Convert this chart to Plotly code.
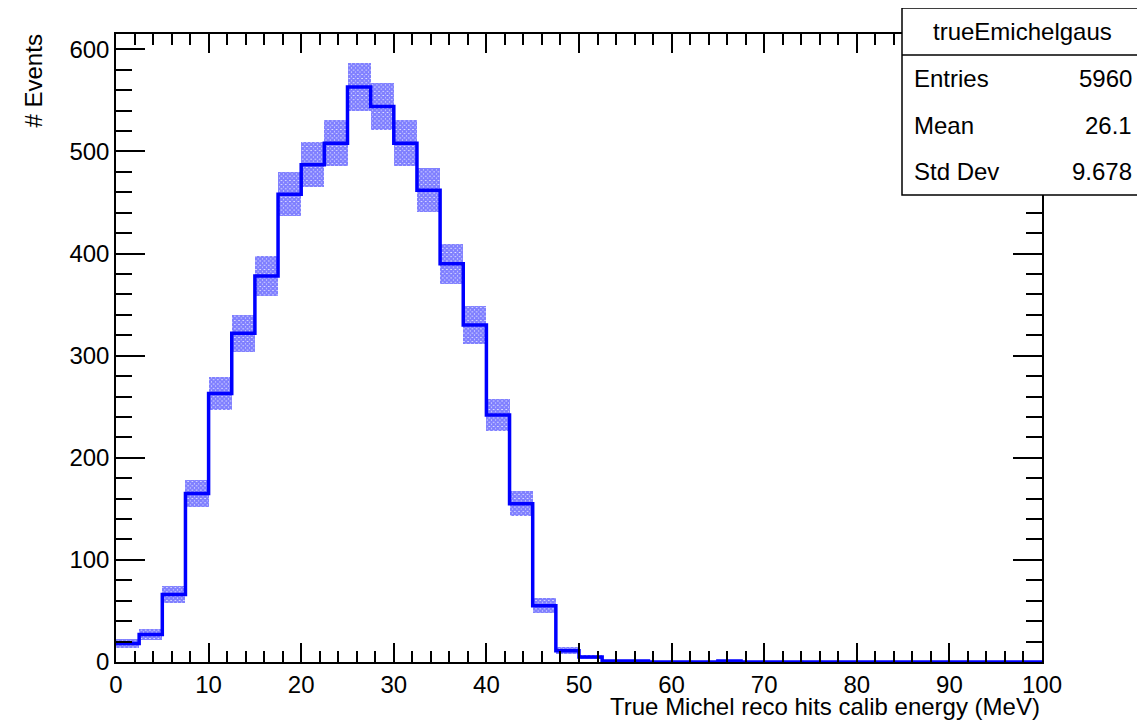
import numpy as np
import plotly.graph_objects as go

# ---- data ----
bin_edges = [i * 2.5 for i in range(41)]
counts = [18, 27, 66, 165, 263, 322, 378, 458, 487, 508,
          563, 544, 508, 462, 390, 330, 242, 155, 55, 11,
          5, 1, 1, 0, 0, 0, 1, 0, 0, 0,
          0, 0, 0, 0, 0, 0, 0, 0, 0, 0]
hist_name = "trueEmichelgaus"
stat_labels = ["Entries", "Mean", "Std Dev"]
stat_values = ["5960", "26.1", "9.678"]
x_title = "True Michel reco hits calib energy (MeV)"
y_title = "# Events"

edges = np.array(bin_edges)
y = np.array(counts, dtype=float)
centers = 0.5 * (edges[:-1] + edges[1:])
widths = np.diff(edges)
err = np.sqrt(y)

# layout geometry (screen pixels); page body has an 8px margin
OFF = 8
W, H = 1145 - OFF, 720 - OFF
L, R, T, B = 116, 1042, 34, 662   # plot frame in screen pixels
def px(p):
    return (p - L) / (R - L)
def py(p):
    return (B - p) / (B - T)

FONT = "Liberation Sans, Arial, sans-serif"
BLUE = "#0000ff"

fig = go.Figure()

# hatched error band
fig.add_trace(go.Bar(
    x=centers, y=2 * err, base=y - err, width=widths,
    marker=dict(color="white", line=dict(width=0),
                pattern=dict(shape="x", fgcolor="#0000ff", bgcolor="white",
                             size=3, solidity=0.9)),
    showlegend=False, hoverinfo="skip"))

# step histogram line
xs = np.concatenate([edges[:-1], [edges[-1]]])
ys = np.concatenate([y, [y[-1]]])
fig.add_trace(go.Scatter(
    x=xs, y=ys, mode="lines", line=dict(color=BLUE, width=3.5, shape="hv"),
    showlegend=False))

axis_common = dict(
    showgrid=False, zeroline=False, showline=True, linecolor="black",
    linewidth=1.5, mirror="allticks", ticks="inside", tickcolor="black",
    tickwidth=1.5, tickfont=dict(family=FONT, size=24, color="black"),
)
fig.update_xaxes(range=[0, 100], dtick=10, tick0=0, ticklen=19,
                 minor=dict(dtick=2, ticklen=11, ticks="inside",
                            tickcolor="black", tickwidth=1.5),
                 **axis_common)
fig.update_yaxes(range=[0, 615], dtick=100, tick0=0, ticklen=29,
                 minor=dict(dtick=20, ticklen=16, ticks="inside",
                            tickcolor="black", tickwidth=1.5),
                 **axis_common)

shapes = []
annotations = []

# stats box
bx0, by0, bx1, by1, sep = 902, 8, 1143, 195, 55
shapes.append(dict(type="rect", xref="paper", yref="paper",
                   x0=px(bx0), x1=px(bx1), y0=py(by1), y1=py(by0),
                   line=dict(color="black", width=1.5), fillcolor="white",
                   layer="above"))
shapes.append(dict(type="line", xref="paper", yref="paper",
                   x0=px(bx0), x1=px(bx1), y0=py(sep), y1=py(sep),
                   line=dict(color="black", width=1.5), layer="above"))
annotations.append(dict(text=hist_name, xref="paper", yref="paper",
                        x=px((bx0 + bx1) / 2), y=py(31), xanchor="center",
                        yanchor="middle", showarrow=False,
                        font=dict(family=FONT, size=24, color="black")))
for i, (lab, val) in enumerate(zip(stat_labels, stat_values)):
    yy = 78 + 47 * i
    annotations.append(dict(text=lab, xref="paper", yref="paper",
                            x=px(912), y=py(yy), xanchor="left", yanchor="middle",
                            showarrow=False,
                            font=dict(family=FONT, size=24, color="black")))
    annotations.append(dict(text=val, xref="paper", yref="paper",
                            x=px(1134), y=py(yy), xanchor="right", yanchor="middle",
                            showarrow=False,
                            font=dict(family=FONT, size=24, color="black")))

# axis titles
annotations.append(dict(text=x_title, xref="paper", yref="paper",
                        x=px(1042), y=py(706), xanchor="right", yanchor="middle",
                        showarrow=False,
                        font=dict(family=FONT, size=24, color="black")))
annotations.append(dict(text=y_title, xref="paper", yref="paper",
                        x=px(33), y=py(33), xanchor="center", yanchor="top",
                        textangle=-90, showarrow=False,
                        font=dict(family=FONT, size=24, color="black")))

fig.update_layout(
    width=W, height=H, autosize=False,
    margin=dict(l=L - OFF, r=W - (R - OFF), t=T - OFF, b=H - (B - OFF), pad=0),
    paper_bgcolor="white", plot_bgcolor="white",
    bargap=0, barmode="overlay",
    shapes=shapes, annotations=annotations,
    font=dict(family=FONT, size=24, color="black"),
)

fig.write_html("out.html")
